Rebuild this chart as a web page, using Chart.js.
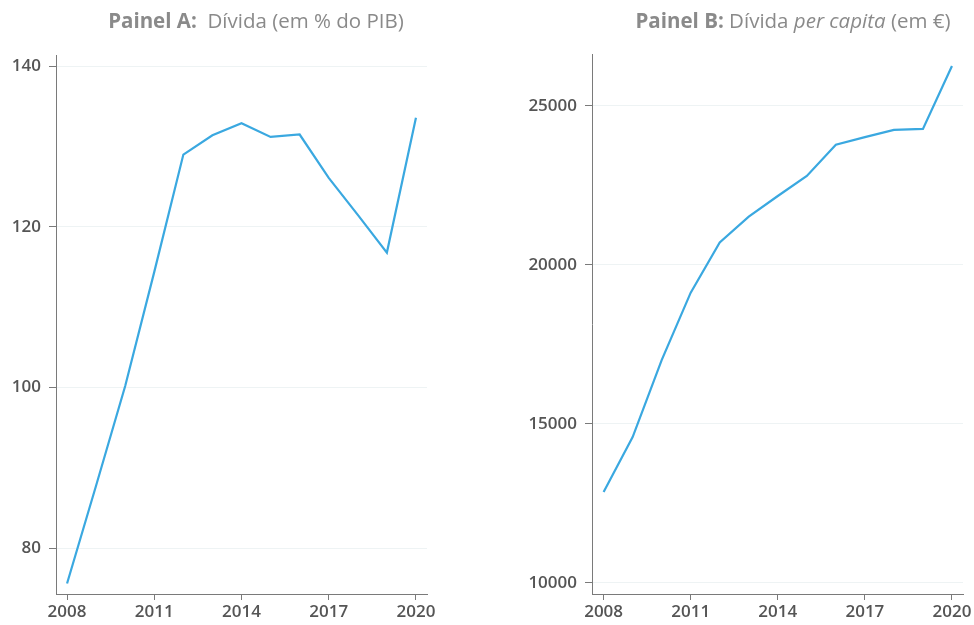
<!DOCTYPE html>
<html>
<head>
<meta charset="utf-8">
<script src="https://cdn.jsdelivr.net/npm/chart.js@4"></script>
<style>
  body { margin: 0; background: #fff; font-family: "Open Sans", sans-serif; }
  #wrap { position: relative; width: 974px; height: 625px; overflow: hidden; }
  .panel { position: absolute; top: 0; width: 487px; height: 625px; }
  .title { position: absolute; top: 9px; font-size: 20.5px; line-height: 22px; color: #8a8a8a; white-space: nowrap; transform: translateX(-50%); }
  .title b { font-weight: 700; }
</style>
</head>
<body>
<div id="wrap">
  <div class="panel" style="left:0"><canvas id="chartA"></canvas></div>
  <div class="panel" style="left:487px"><canvas id="chartB"></canvas></div>
  <div class="title" style="left:256px"><b>Painel A:</b>&nbsp; Dívida (em % do PIB)</div>
  <div class="title" style="left:793px"><b>Painel B:</b> Dívida <i>per capita</i> (em €)</div>
</div>
<script>
// --- DATA ---
const years = [2008, 2009, 2010, 2011, 2012, 2013, 2014, 2015, 2016, 2017, 2018, 2019, 2020];
const debtPctGdp = [75.6, 87.8, 100.2, 114.4, 129.0, 131.4, 132.9, 131.2, 131.5, 126.1, 121.5, 116.8, 133.6];
const debtPerCapita = [12860, 14590, 17010, 19130, 20710, 21520, 22170, 22800, 23780, 24020, 24250, 24280, 26260];
const xTicks = [2008, 2011, 2014, 2017, 2020];
const yTicksA = [80, 100, 120, 140];
const yTicksB = [10000, 15000, 20000, 25000];

const LINE_COLOR = '#3aa8e0';
const AXIS_COLOR = '#7a7a7a';
const GRID_COLOR = '#eef3f4';
const TICK_FONT = { family: 'Open Sans', size: 17, weight: '600' };

function makeChart(canvasId, values, yTicks, opts) {
    const points = years.map((y, i) => ({ x: y, y: values[i] }));
    return new Chart(document.getElementById(canvasId), {
        type: 'line',
        data: {
            datasets: [{
                data: points,
                borderColor: LINE_COLOR,
                borderWidth: 2.2,
                pointRadius: 0,
                tension: 0,
                fill: false
            }]
        },
        options: {
            responsive: false,
            animation: false,
            maintainAspectRatio: false,
            layout: { padding: { left: 0, right: opts.padRight, top: opts.padTop, bottom: 0 } },
            plugins: { legend: { display: false }, tooltip: { enabled: false }, title: { display: false } },
            scales: {
                x: {
                    type: 'linear',
                    min: opts.xMin,
                    max: opts.xMax,
                    afterBuildTicks: s => { s.ticks = xTicks.map(v => ({ value: v })); },
                    afterFit: s => { s.height = 31; },
                    grid: { drawOnChartArea: false, drawTicks: true, tickLength: 6, tickColor: AXIS_COLOR },
                    border: { color: AXIS_COLOR, width: 1 },
                    ticks: { color: '#555', font: TICK_FONT, padding: 2, maxRotation: 0, callback: v => String(v) }
                },
                y: {
                    min: opts.yMin,
                    max: opts.yMax,
                    afterBuildTicks: s => { s.ticks = yTicks.map(v => ({ value: v })); },
                    afterFit: s => { s.width = opts.yWidth; },
                    grid: { color: GRID_COLOR, lineWidth: 1, drawTicks: true, tickLength: 7, tickColor: AXIS_COLOR },
                    border: { color: AXIS_COLOR, width: 1 },
                    ticks: { color: '#555', font: TICK_FONT, padding: 8, callback: v => String(v) }
                }
            }
        }
    });
}

function sizeCanvas(id) {
    const c = document.getElementById(id);
    c.width = 487; c.height = 625;
    c.style.width = '487px'; c.style.height = '625px';
}
sizeCanvas('chartA');
sizeCanvas('chartB');

makeChart('chartA', debtPctGdp, yTicksA, {
    xMin: 2007.62, xMax: 2020.38, yMin: 74.3, yMax: 141.4,
    yWidth: 56, padRight: 60, padTop: 55
});
makeChart('chartB', debtPerCapita, yTicksB, {
    xMin: 2007.6, xMax: 2020.38, yMin: 9654, yMax: 26635,
    yWidth: 105, padRight: 11, padTop: 54
});
</script>
</body>
</html>
